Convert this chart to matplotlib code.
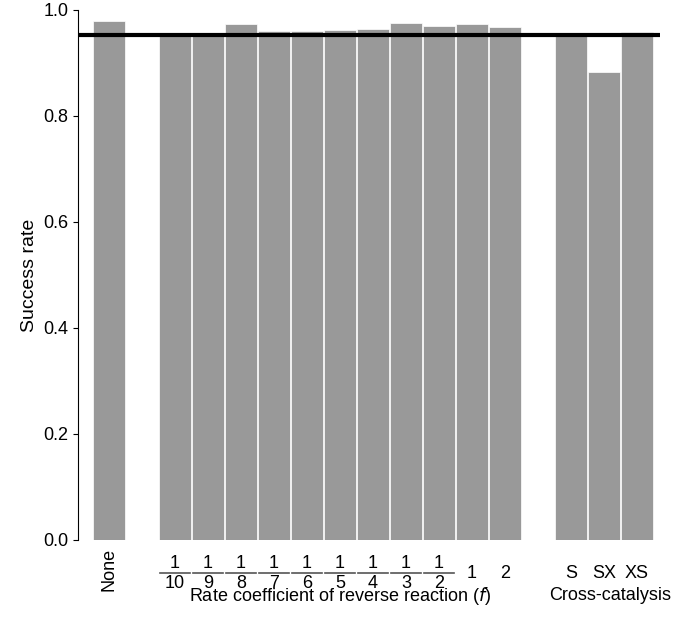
import matplotlib
matplotlib.use("Agg")
import matplotlib.pyplot as plt
from matplotlib.transforms import blended_transform_factory

# data
none_val = [0.980]
f_labels = [("1", "10"), ("1", "9"), ("1", "8"), ("1", "7"), ("1", "6"), ("1", "5"),
            ("1", "4"), ("1", "3"), ("1", "2"), ("1", None), ("2", None)]
f_vals = [0.957, 0.957, 0.974, 0.960, 0.961, 0.962, 0.964, 0.975, 0.970, 0.974, 0.968]
cross_labels = ["S", "SX", "XS"]
cross_vals = [0.957, 0.883, 0.958]
threshold = 0.952

plt.rcParams["font.family"] = "Liberation Sans"
fig = plt.figure(figsize=(6.85, 6.17), dpi=100)
ax = fig.add_axes([78 / 685, 1 - 540 / 617, (660 - 78) / 685, 530 / 617])

pos_none = [0]
pos_f = list(range(2, 2 + len(f_vals)))
pos_c = list(range(14, 14 + len(cross_vals)))
kw = dict(width=0.97, color="#999999", edgecolor="white", linewidth=0.5)
ax.bar(pos_none, none_val, **kw)
ax.bar(pos_f, f_vals, **kw)
ax.bar(pos_c, cross_vals, **kw)
ax.axhline(threshold, color="black", lw=3)

ax.set_xlim(-0.94, 16.7)
ax.set_ylim(0, 1.0)
ax.set_yticks([0, 0.2, 0.4, 0.6, 0.8, 1.0])
ax.set_yticklabels(["0.0", "0.2", "0.4", "0.6", "0.8", "1.0"], fontsize=13)
ax.set_xticks([])
for s in ("top", "right", "bottom"):
    ax.spines[s].set_visible(False)
ax.set_ylabel("Success rate", fontsize=14)

tr = blended_transform_factory(ax.transData, ax.transAxes)
px = 1 / 530  # axes fraction per pixel vertically
fs = 13
ax.text(0, -8 * px, "None", rotation=90, ha="center", va="top", fontsize=fs, transform=tr)
for p, (num, den) in zip(pos_f, f_labels):
    if den is None:
        ax.text(p, -33 * px, num, ha="center", va="center", fontsize=fs, transform=tr)
    else:
        ax.text(p, -23 * px, num, ha="center", va="center", fontsize=fs, transform=tr)
        ax.plot([p - 0.45, p + 0.45], [-33 * px] * 2, color="#555555", lw=1.2,
                transform=tr, clip_on=False)
        ax.text(p, -43 * px, den, ha="center", va="center", fontsize=fs, transform=tr)
for p, lab in zip(pos_c, cross_labels):
    ax.text(p, -33 * px, lab, ha="center", va="center", fontsize=fs, transform=tr)
ax.text(7, -56 * px, "Rate coefficient of reverse reaction ($\\it{f}$)", ha="center",
        va="center", fontsize=fs, transform=tr)
ax.text(15.2, -56 * px, "Cross-catalysis", ha="center", va="center", fontsize=fs, transform=tr)

fig.savefig("out.png", dpi=100)
